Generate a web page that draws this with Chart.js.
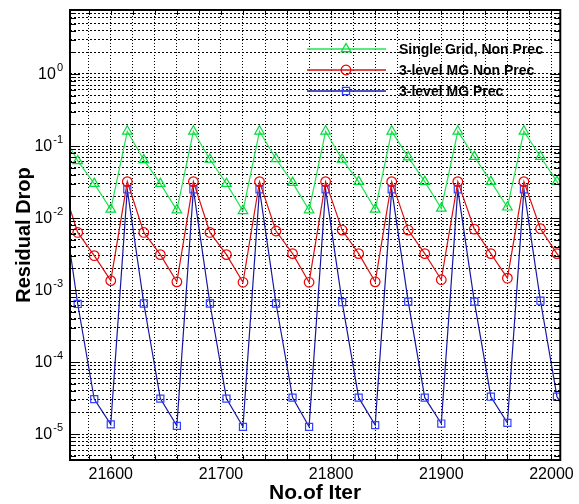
<!DOCTYPE html>
<html>
<head>
<meta charset="utf-8">
<script src="https://cdn.jsdelivr.net/npm/chart.js@4/dist/chart.umd.min.js"></script>
<style>
  html, body { margin: 0; padding: 0; background: #fff; }
  #chart { display: block; }
</style>
</head>
<body>
<canvas id="chart" width="579" height="504"></canvas>
<script>
const iters = [21555, 21570, 21585, 21600, 21615, 21630, 21645, 21660,
  21675, 21690, 21705, 21720, 21735, 21750, 21765, 21780,
  21795, 21810, 21825, 21840, 21855, 21870, 21885, 21900,
  21915, 21930, 21945, 21960, 21975, 21990, 22005, 22020];

const singleGrid = [0.16, 0.062, 0.030, 0.0132, 0.16, 0.064, 0.030, 0.0129,
  0.16, 0.065, 0.030, 0.0126, 0.16, 0.066, 0.031, 0.0129,
  0.16, 0.065, 0.032, 0.0132, 0.16, 0.070, 0.032, 0.0136,
  0.16, 0.071, 0.032, 0.0141, 0.16, 0.071, 0.032, 0.0142];

const mgNonPrec = [0.032, 0.0063, 0.0030, 0.00135, 0.032, 0.0063, 0.0031, 0.0013,
  0.032, 0.0063, 0.0031, 0.00128, 0.032, 0.0066, 0.0032, 0.00128,
  0.032, 0.0068, 0.0032, 0.0013, 0.032, 0.0068, 0.0032, 0.00139,
  0.032, 0.0070, 0.0032, 0.00146, 0.032, 0.0071, 0.0032, 0.0015];

const mgPrec = [0.025, 6.4e-4, 3.06e-5, 1.36e-5, 0.025, 6.5e-4, 3.1e-5, 1.3e-5,
  0.025, 6.5e-4, 3.1e-5, 1.26e-5, 0.025, 6.5e-4, 3.2e-5, 1.26e-5,
  0.025, 6.8e-4, 3.2e-5, 1.33e-5, 0.025, 6.9e-4, 3.2e-5, 1.4e-5,
  0.025, 6.9e-4, 3.3e-5, 1.43e-5, 0.025, 7.1e-4, 3.3e-5, 1.45e-5];

const seriesNames = ['Single Grid, Non Prec', '3-level MG Non Prec', '3-level MG Prec'];
const xTickLabels = [21600, 21700, 21800, 21900, 22000];
const yExponents = [-5, -4, -3, -2, -1, 0];

const FONT = '"Liberation Sans", Arial, Helvetica, sans-serif';

let toPoints = vals => iters.map((x, i) => ({ x: x, y: vals[i] }));

let lineSet = (label, vals, line, marker, style, radius) => ({
  label: label,
  data: toPoints(vals),
  borderColor: line,
  borderWidth: 1.2,
  pointStyle: style,
  pointRadius: radius,
  pointHoverRadius: radius,
  pointBorderColor: marker,
  pointBorderWidth: 1.2,
  pointBackgroundColor: 'rgba(0,0,0,0)',
  tension: 0,
  fill: false,
  clip: 0
});

let decor = {
  id: 'decor',
  afterDraw(chart) {
    const { ctx, chartArea: a, scales: { x, y } } = chart;
    ctx.save();

    // inward ticks on all four sides
    ctx.strokeStyle = '#000';
    ctx.lineWidth = 1;
    ctx.beginPath();
    x.ticks.forEach(t => {
      let px = Math.round(x.getPixelForValue(t.value)) + 0.5;
      ctx.moveTo(px, a.bottom); ctx.lineTo(px, a.bottom - 5);
      ctx.moveTo(px, a.top); ctx.lineTo(px, a.top + 5);
    });
    y.ticks.forEach(t => {
      let py = Math.round(y.getPixelForValue(t.value)) + 0.5;
      let len = t.major ? 10 : 6;
      ctx.moveTo(a.left, py); ctx.lineTo(a.left + len, py);
      ctx.moveTo(a.right, py); ctx.lineTo(a.right - len, py);
    });
    ctx.stroke();

    ctx.lineWidth = 2;
    ctx.strokeRect(a.left, a.top, a.right - a.left, a.bottom - a.top);

    // y labels as 10 with superscript exponent
    ctx.fillStyle = '#000';
    ctx.textBaseline = 'middle';
    yExponents.forEach(e => {
      let py = y.getPixelForValue(Math.pow(10, e));
      let right = a.left - 7;
      ctx.font = '11px ' + FONT;
      ctx.textAlign = 'right';
      let expText = String(e);
      let w = ctx.measureText(expText).width;
      ctx.fillText(expText, right, py - 6);
      ctx.font = '16px ' + FONT;
      ctx.fillText('10', right - w - 1, py + 1);
    });

    // legend
    let lx1 = 307, lx2 = 386, mx = 346, tx = 399;
    let ly = [49, 70, 91];
    chart.data.datasets.forEach((ds, i) => {
      ctx.save();
      ctx.globalAlpha = 0.75;
      ctx.strokeStyle = ds.borderColor;
      ctx.lineWidth = 2;
      ctx.beginPath();
      ctx.moveTo(lx1, ly[i]); ctx.lineTo(lx2, ly[i]);
      ctx.stroke();
      ctx.restore();
      ctx.strokeStyle = ds.pointBorderColor;
      ctx.fillStyle = 'rgba(0,0,0,0)';
      ctx.lineWidth = 1.3;
      Chart.helpers.drawPoint(ctx, { pointStyle: ds.pointStyle, radius: ds.pointRadius, borderWidth: 1.3, rotation: 0 }, mx, ly[i]);
      ctx.fillStyle = '#000';
      ctx.font = 'bold 14px ' + FONT;
      ctx.textAlign = 'left';
      ctx.textBaseline = 'middle';
      ctx.fillText(ds.label, tx, ly[i] + 1);
    });

    ctx.restore();
  }
};

let ctx = document.getElementById('chart').getContext('2d');
let chart = new Chart(ctx, {
  type: 'line',
  data: {
    datasets: [
      lineSet(seriesNames[0], singleGrid, '#22e452', '#00dc38', 'triangle', 5.5),
      lineSet(seriesNames[1], mgNonPrec, '#d81010', '#ee0000', 'circle', 4.8),
      lineSet(seriesNames[2], mgPrec, '#1818a8', '#3040ff', 'rect', 5)
    ]
  },
  options: {
    responsive: false,
    animation: false,
    layout: { padding: { left: 0, right: 16, top: 10, bottom: 0 } },
    plugins: {
      legend: { display: false },
      tooltip: { enabled: false }
    },
    scales: {
      x: {
        type: 'linear',
        min: 21563,
        max: 22008,
        afterBuildTicks: scale => {
          let ticks = [];
          for (let v = 21580; v <= 22000; v += 20) ticks.push({ value: v });
          scale.ticks = ticks;
        },
        afterFit: scale => { scale.height = 44; },
        grid: { color: '#000', lineWidth: 1, drawTicks: false },
        border: { display: false, dash: [1, 2] },
        ticks: {
          autoSkip: false,
          maxRotation: 0,
          padding: 5,
          color: '#000',
          font: { family: FONT, size: 16 },
          callback: v => xTickLabels.includes(v) ? String(v) : ''
        },
        title: {
          display: true,
          text: 'No.of Iter',
          color: '#000',
          padding: { top: 0, bottom: 0 },
          font: { family: FONT, size: 21, weight: 'bold', lineHeight: 1 }
        }
      },
      y: {
        type: 'logarithmic',
        min: 4.36e-6,
        max: 7.74,
        afterBuildTicks: scale => {
          let ticks = [];
          for (let e = -6; e <= 0; e++) {
            for (let m = 1; m <= 9; m++) {
              let v = m * Math.pow(10, e);
              if (v >= scale.min && v <= scale.max) ticks.push({ value: v, major: m === 1 });
            }
          }
          scale.ticks = ticks;
        },
        afterFit: scale => { scale.width = 70; },
        grid: { color: '#000', lineWidth: 1, drawTicks: false },
        border: { display: false, dash: [2, 2] },
        ticks: { display: false },
        title: {
          display: true,
          text: 'Residual Drop',
          color: '#000',
          padding: { top: 14, bottom: 0 },
          font: { family: FONT, size: 20, weight: 'bold', lineHeight: 1 }
        }
      }
    }
  },
  plugins: [decor]
});
</script>
</body>
</html>
